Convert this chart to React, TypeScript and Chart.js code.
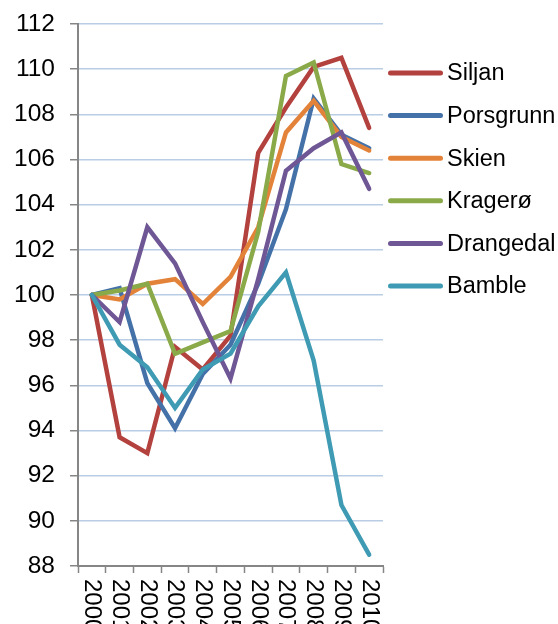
import React, { useEffect, useRef } from 'react';
import { Chart, registerables } from 'chart.js';

Chart.register(...registerables);

const years = ['2000', '2001', '2002', '2003', '2004', '2005', '2006', '2007', '2008', '2009', '2010'];

const siljan = [100, 93.7, 93.0, 97.7, 96.7, 98.2, 106.3, 108.3, 110.1, 110.5, 107.4];
const porsgrunn = [100, 100.3, 96.1, 94.1, 96.5, 97.8, 100.5, 103.8, 108.7, 107.1, 106.5];
const skien = [100, 99.8, 100.5, 100.7, 99.6, 100.8, 103.0, 107.2, 108.6, 107.0, 106.4];
const kragero = [100, 100.2, 100.5, 97.4, 97.9, 98.4, 102.8, 109.7, 110.3, 105.8, 105.4];
const drangedal = [100, 98.8, 103.0, 101.4, 98.8, 96.3, 100.7, 105.5, 106.5, 107.2, 104.7];
const bamble = [100, 97.8, 96.8, 95.0, 96.7, 97.4, 99.5, 101.0, 97.1, 90.7, 88.5];

const seriesNames = ['Siljan', 'Porsgrunn', 'Skien', 'Kragerø', 'Drangedal', 'Bamble'];
const seriesColors = ['#B3413E', '#4471A8', '#E3833A', '#8AAA4A', '#6F5695', '#3E9BB3'];

const yMin = 88;
const yMax = 112;
const yStep = 2;

const FONT = '"Liberation Sans", Arial, sans-serif';

export default function App() {
  const ref = useRef<HTMLCanvasElement>(null);

  useEffect(() => {
    if (!ref.current) return;
    const values = [siljan, porsgrunn, skien, kragero, drangedal, bamble];
    const datasets = seriesNames.map((name, i) => ({
      label: name,
      data: values[i],
      borderColor: seriesColors[i],
      backgroundColor: seriesColors[i],
      borderWidth: 4.5,
      pointRadius: 0,
      pointHoverRadius: 0,
      tension: 0,
      fill: false,
      borderJoinStyle: 'miter' as const,
      borderCapStyle: 'round' as const,
      order: seriesNames.length - 1 - i,
    }));

    const xLabelsPlugin = {
      id: 'xLabelsRotated',
      afterDraw(chart: any) {
        const ctx = chart.ctx;
        const xs = chart.scales.x;
        ctx.save();
        ctx.font = `24px ${FONT}`;
        ctx.fillStyle = '#000';
        ctx.textAlign = 'left';
        ctx.textBaseline = 'middle';
        years.forEach((lab, i) => {
          const x = xs.getPixelForTick(i);
          ctx.save();
          ctx.translate(x, xs.top + 13);
          ctx.rotate(Math.PI / 2);
          ctx.fillText(lab, 0, 0);
          ctx.restore();
        });
        ctx.restore();
      },
    };

    const legendPlugin = {
      id: 'sideLegend',
      afterDraw(chart: any) {
        const ctx = chart.ctx;
        const area = chart.chartArea;
        const x0 = area.right + 5;
        const lineLen = 55;
        const top = 73;
        const spacing = 42.6;
        ctx.save();
        ctx.font = `23.5px ${FONT}`;
        ctx.textAlign = 'left';
        ctx.textBaseline = 'middle';
        chart.data.datasets.forEach((ds: any, i: number) => {
          const y = top + i * spacing;
          ctx.strokeStyle = ds.borderColor;
          ctx.lineWidth = 5;
          ctx.lineCap = 'round';
          ctx.beginPath();
          ctx.moveTo(x0 + 2.5, y);
          ctx.lineTo(x0 + lineLen - 2.5, y);
          ctx.stroke();
          ctx.fillStyle = '#000';
          ctx.fillText(ds.label, x0 + lineLen + 4, y + 1);
        });
        ctx.restore();
      },
    };

    const chart = new Chart(ref.current, {
      type: 'line',
      data: { labels: years, datasets },
      options: {
        responsive: false,
        animation: false,
        events: [],
        layout: { padding: { top: 24, right: 175, bottom: 0, left: 0 } },
        plugins: {
          legend: { display: false },
          tooltip: { enabled: false },
          title: { display: false },
        },
        scales: {
          x: {
            type: 'category',
            offset: true,
            grid: {
              display: true,
              drawOnChartArea: false,
              drawTicks: true,
              tickLength: 7,
              tickColor: '#868686',
              tickWidth: 1.5,
              offset: true,
            },
            border: { display: true, color: '#868686', width: 2 },
            ticks: { display: false, autoSkip: false },
            afterFit: (s: any) => {
              s.height = 58;
            },
          },
          y: {
            min: yMin,
            max: yMax,
            ticks: {
              stepSize: yStep,
              color: '#000',
              font: { family: FONT, size: 24.5, lineHeight: 0.6 },
              padding: 15,
            },
            grid: {
              color: '#B9CDE5',
              lineWidth: 1.5,
              tickLength: 8,
              tickColor: '#868686',
              tickWidth: 1.5,
            },
            border: { display: true, color: '#868686', width: 2 },
            afterFit: (s: any) => {
              s.width = 78;
            },
          },
        },
      },
      plugins: [xLabelsPlugin, legendPlugin],
    });

    return () => chart.destroy();
  }, []);

  return (
    <div style={{ position: 'absolute', left: 0, top: 0, width: 558, height: 624, overflow: 'hidden', background: '#fff' }}>
      <canvas ref={ref} width={558} height={624} style={{ display: 'block' }} />
    </div>
  );
}
